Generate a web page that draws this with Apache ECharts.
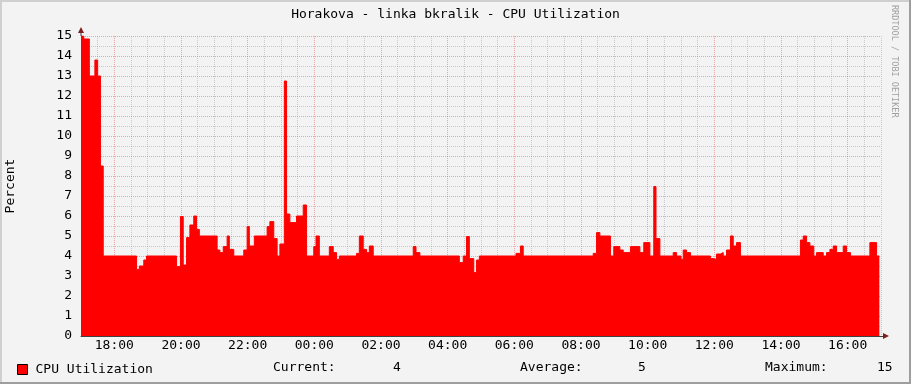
<!DOCTYPE html>
<html><head><meta charset="utf-8">
<script src="https://cdn.jsdelivr.net/npm/echarts@6/dist/echarts.min.js"></script>
<style>html,body{margin:0;padding:0;background:#F3F3F3}#c{width:911px;height:384px}</style>
</head><body><div id="c"></div>
<script>
const chartTitle = 'Horakova - linka bkralik - CPU Utilization';
const yAxisName = 'Percent';
const seriesName = 'CPU Utilization';
const watermark = 'RRDTOOL / TOBI OETIKER';
const startClockMinutes = 17 * 60; // axis starts at 17:00
// minutes after 17:00 where the value changes
const changeMinutes = [0,5,15,25,30,35,40,100,105,113,118,172,179,184,190,196,203,208,213,245,250,256,263,267,275,293,299,303,312,335,340,347,353,358,366,370,376,388,400,406,419,423,429,447,454,460,465,496,501,508,514,519,526,598,603,610,681,688,694,699,707,712,717,783,791,796,922,928,934,953,959,970,976,989,1006,1013,1024,1031,1035,1042,1066,1072,1080,1084,1090,1097,1133,1139,1144,1151,1156,1162,1169,1174,1180,1187,1295,1300,1306,1312,1319,1324,1336,1342,1348,1354,1360,1372,1378,1385,1420,1432,1437];
// CPU utilisation (%) from each change time on
const changeValues = [15.0,14.85,13.0,13.8,13.0,8.5,4.0,3.33,3.5,3.8,4.0,3.47,5.97,3.55,4.92,5.55,6.0,5.33,5.0,4.3,4.17,4.47,5.0,4.33,4.0,4.3,5.47,4.5,5.0,5.47,5.72,4.87,4.0,4.6,12.75,6.1,5.67,6.0,6.55,4.0,4.47,5.0,4.0,4.47,4.17,3.83,4.0,4.13,5.0,4.33,4.17,4.5,4.0,4.47,4.17,4.0,3.67,4.0,4.97,3.87,3.17,3.8,4.0,4.13,4.5,4.0,4.13,5.17,5.0,4.0,4.47,4.3,4.17,4.47,4.17,4.67,4.0,7.47,4.87,4.0,4.17,4.0,3.83,4.3,4.17,4.0,3.87,3.83,4.1,4.17,4.0,4.3,5.0,4.5,4.67,4.0,4.8,5.0,4.67,4.5,4.0,4.17,4.0,4.17,4.33,4.5,4.17,4.5,4.17,4.0,4.67,4.0,4.0];
const statLabels = ['Current:', 'Average:', 'Maximum:'];
const statValues = ['4', '5', '15'];

const mono = 'DejaVu Sans Mono';
const chart = echarts.init(document.getElementById('c'));
const data = changeMinutes.map((m, i) => [m, changeValues[i]]);
const gridGray = 'rgba(150,150,150,0.45)';
const gridPink = 'rgba(225,90,90,0.5)';

const statX = [[273, 393], [520, 638], [765, 877]];
const statGraphics = [];
statLabels.forEach((lab, i) => {
  statGraphics.push({type:'text', left: statX[i][0], top: 361, style:{text: lab, font: '13px "DejaVu Sans Mono"', fill:'#000'}});
  statGraphics.push({type:'text', left: statX[i][1], top: 361, style:{text: statValues[i], font: '13px "DejaVu Sans Mono"', fill:'#000'}});
});

chart.setOption({
  backgroundColor: '#F3F3F3',
  animation: false,
  title: {text: chartTitle, left: 'center', top: 3, textStyle: {fontFamily: mono, fontSize: 13, fontWeight: 'normal', color: '#000'}},
  legend: {data: [seriesName], left: 17, top: 363, padding: 0, icon: 'rect', itemWidth: 10, itemHeight: 10,
    itemStyle: {borderColor: '#000', borderWidth: 1, color: '#FF0000'},
    textStyle: {fontFamily: mono, fontSize: 13, color: '#000', padding: [0,0,0,3]}},
  grid: {left: 81, right: 30, top: 36, bottom: 48, containLabel: false, outerBoundsMode: 'none'},
  xAxis: {
    type: 'value', min: 0, max: 1440, interval: 30,
    axisLine: {show: true, lineStyle: {color: '#404040', width: 1}},
    axisTick: {show: false},
    axisLabel: {
      fontFamily: mono, fontSize: 13, color: '#000', margin: 3,
      formatter: v => {
        const c = (v + startClockMinutes) % 1440;
        if (c % 120 !== 0 || v === 0) return '';
        const h = Math.floor(c / 60);
        return (h < 10 ? '0' : '') + h + ':00';
      }
    },
    splitLine: {show: true, lineStyle: {color: [gridGray, gridGray, gridPink, gridGray], type: [1, 1], width: 1}}
  },
  yAxis: {
    type: 'value', min: 0, max: 15, interval: 1,
    name: yAxisName, nameLocation: 'middle', nameGap: 64, nameRotate: 90,
    nameTextStyle: {fontFamily: mono, fontSize: 13, color: '#000'},
    axisLine: {show: true, lineStyle: {color: '#404040', width: 1}},
    axisTick: {show: false},
    minorTick: {show: false, splitNumber: 2},
    axisLabel: {fontFamily: mono, fontSize: 13, color: '#000', margin: 9},
    splitLine: {show: true, lineStyle: {color: gridPink, type: [1, 1]}},
    minorSplitLine: {show: true, lineStyle: {color: gridGray, type: [1, 1]}}
  },
  series: [{
    name: seriesName, type: 'line', step: 'end', data: data,
    showSymbol: false, symbol: 'none',
    itemStyle: {color: '#FF0000'},
    lineStyle: {color: '#FF0000', width: 1},
    areaStyle: {color: '#FF0000', opacity: 1}
  }],
  graphic: [
    {type:'rect', shape:{x:0,y:0,width:911,height:2}, style:{fill:'#CFCFCF'}, silent:true},
    {type:'rect', shape:{x:0,y:0,width:2,height:384}, style:{fill:'#CFCFCF'}, silent:true},
    {type:'rect', shape:{x:909,y:0,width:2,height:384}, style:{fill:'#9E9E9E'}, silent:true},
    {type:'rect', shape:{x:0,y:382,width:911,height:2}, style:{fill:'#9E9E9E'}, silent:true},
    {type:'line', shape:{x1:81,y1:36,x2:81,y2:31}, style:{stroke:'#404040', lineWidth:1}, silent:true},
    {type:'line', shape:{x1:881,y1:336.5,x2:884,y2:336.5}, style:{stroke:'#404040', lineWidth:1}, silent:true},
    {type:'polygon', shape:{points:[[78,33],[84,33],[81,27]]}, style:{fill:'#7F1F1F'}, silent:true},
    {type:'polygon', shape:{points:[[883,333],[883,339],[889,336]]}, style:{fill:'#7F1F1F'}, silent:true},
    {type:'text', x: 899, y: 5, rotation: -Math.PI/2, style:{text: watermark, font: '8.5px "DejaVu Sans Mono"', fill:'#A0A0A0', textAlign:'left', textVerticalAlign:'top'}, silent:true}
  ].concat(statGraphics)
});
</script></body></html>
